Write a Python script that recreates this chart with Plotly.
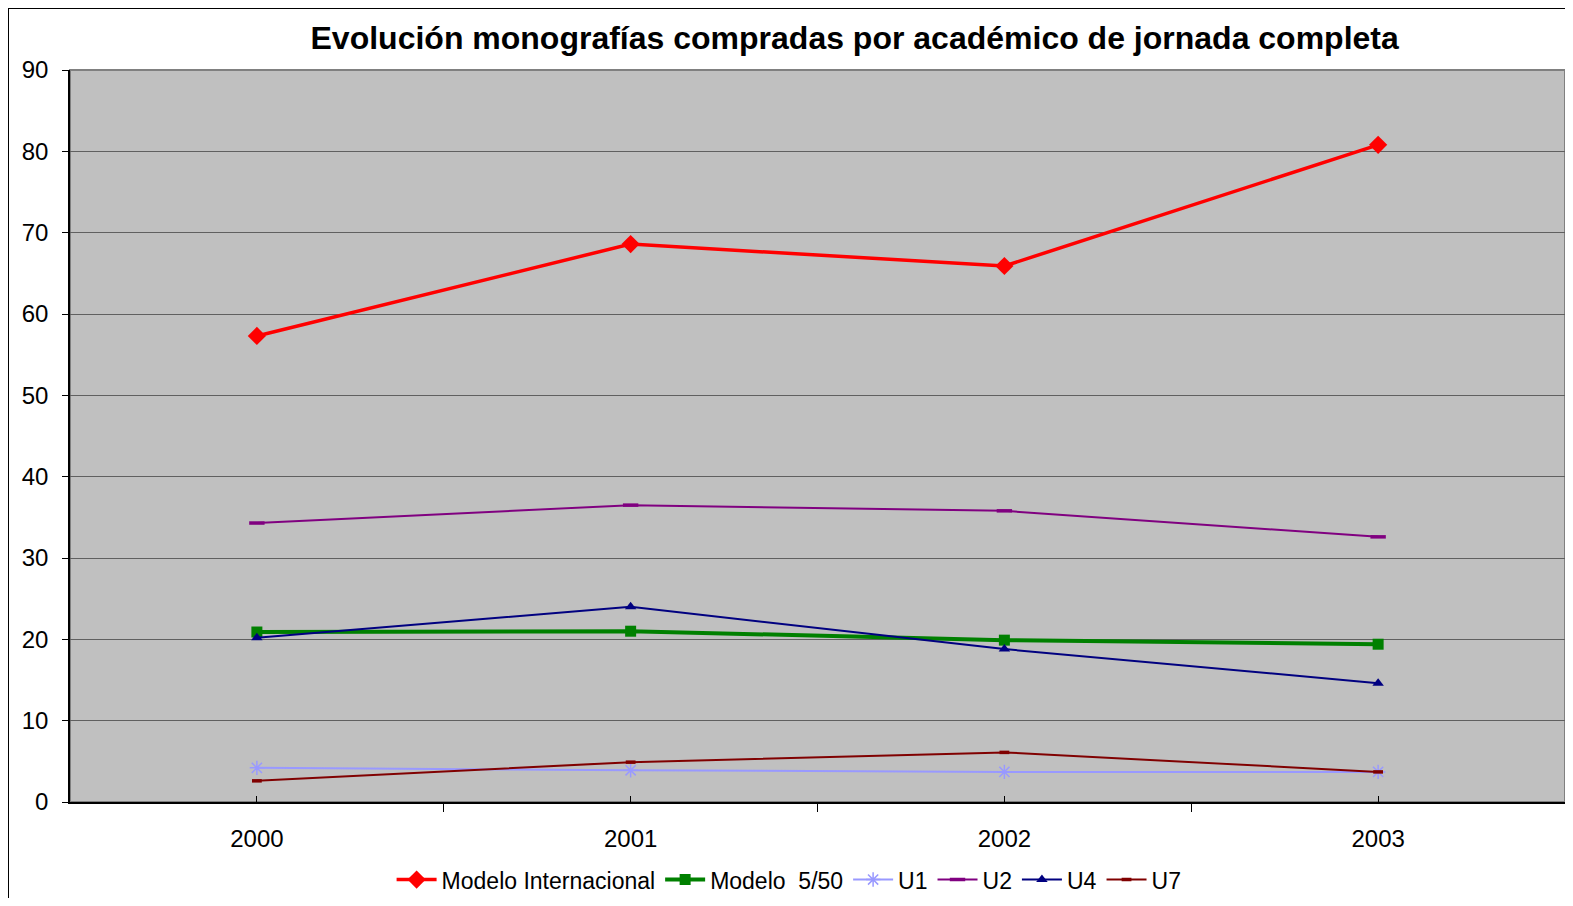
import plotly.graph_objects as go

years = [2000, 2001, 2002, 2003]
year_labels = ["2000", "2001", "2002", "2003"]

modelo_internacional = [57.3, 68.6, 65.9, 80.8]
modelo_5_50 = [20.9, 21.0, 19.9, 19.4]
u1 = [4.2, 3.9, 3.7, 3.7]
u2 = [34.3, 36.5, 35.8, 32.6]
u4 = [20.2, 24.0, 18.8, 14.6]
u7 = [2.6, 4.9, 6.1, 3.7]

series = [
    ("Modelo Internacional", modelo_internacional, "#FF0000", 3.5, "diamond", 14, None),
    ("Modelo  5/50", modelo_5_50, "#008000", 4, "square", 11, None),
    ("U1", u1, "#9999FF", 2, "asterisk-open", 12, "#9999FF"),
    ("U2", u2, "#800080", 2, "line-ew-open", 11, "#800080"),
    ("U4", u4, "#000080", 2, "triangle-up", 10, None),
    ("U7", u7, "#800000", 2, "line-ew-open", 7, "#800000"),
]

fig = go.Figure()
for name, vals, color, w, sym, size, mline in series:
    marker = dict(symbol=sym, size=size, color=color)
    if mline:
        marker["line"] = dict(color=mline, width=3.5 if sym.startswith("line") else 1.5)
    fig.add_trace(go.Scatter(
        x=years, y=vals, name=name, mode="lines+markers",
        line=dict(color=color, width=w), marker=marker,
    ))

fig.update_layout(
    width=1565, height=890,
    margin=dict(l=62, r=8, t=62, b=96, autoexpand=False),
    paper_bgcolor="white",
    plot_bgcolor="#C0C0C0",
    font=dict(family="Liberation Sans, Arial, sans-serif", size=24, color="black"),
    title=dict(
        text="<b>Evolución monografías compradas por académico de jornada completa</b>",
        xref="container", x=0.541, xanchor="center", y=0.966, yanchor="middle",
        font=dict(size=32, family="Liberation Sans, Arial, sans-serif"),
    ),
    showlegend=True,
    legend=dict(
        orientation="h", x=0.481, xanchor="center", y=-0.106, yanchor="middle",
        font=dict(size=23), bgcolor="rgba(0,0,0,0)", itemwidth=40,
        tracegroupgap=0,
    ),
    xaxis=dict(
        range=[1999.5, 2003.5],
        tickvals=years, ticktext=year_labels,
        ticks="inside", ticklen=6, tickcolor="black",
        ticklabelstandoff=14,
        showgrid=False, zeroline=False,
        showline=True, linecolor="black", linewidth=1.5,
        minor=dict(tickvals=[1999.5, 2000.5, 2001.5, 2002.5, 2003.5],
                   ticks="outside", ticklen=8, tickcolor="black"),
        mirror=False,
        automargin=False,
    ),
    yaxis=dict(
        range=[0, 90], dtick=10,
        ticks="outside", ticklen=6, tickcolor="black",
        showgrid=True, gridcolor="#606060", gridwidth=1,
        zeroline=False,
        showline=True, linecolor="black", linewidth=1.5,
        ticklabelstandoff=9,
        automargin=False,
    ),
    shapes=[
        dict(type="rect", xref="paper", yref="paper",
             x0=0, x1=1, y0=0, y1=1, line=dict(color="#808080", width=2),
             layer="below"),
        dict(type="rect", xref="paper", yref="paper",
             x0=-62 / 1495, x1=1.02, y0=-0.2, y1=1 + 62 / 732,
             line=dict(color="black", width=2)),
    ],
)

fig.write_html("out.html")
